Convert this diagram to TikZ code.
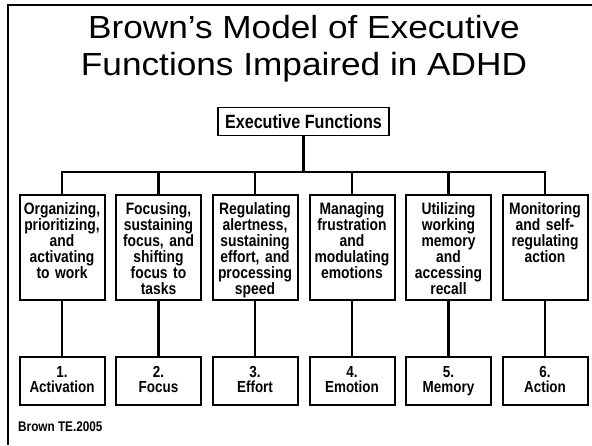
\documentclass[tikz,border=0pt]{standalone}
\usepackage{fontspec}
\setmainfont{Liberation Sans}
\newfontfamily\boxfont[FakeStretch=0.84]{Liberation Sans}
\newfontfamily\titlefont[FakeStretch=1.1]{Liberation Sans}

\begin{document}
\begin{tikzpicture}[x=1pt, y=-1pt,
    skillbox/.style={rectangle, draw, line width=2pt, text width=80pt, inner xsep=2.5pt, inner ysep=3pt,
      align=center, anchor=north, text height=16pt, text depth=83pt,
      font=\boxfont\bfseries\fontsize{16.5}{16}\selectfont},
    areabox/.style={rectangle, draw, line width=2pt, text width=80pt, inner xsep=2.5pt,
      minimum height=48pt, align=center, text height=12pt, text depth=19pt,
      font=\boxfont\bfseries\fontsize{16}{15}\selectfont},
    link/.style={line width=2.6pt}]
      \useasboundingbox (0,0) rectangle (592,445);
      \draw[line width=2pt] (592,5) -- (8,5) -- (8,445);

      \node at(304,49) [align=center, font=\titlefont\fontsize{32}{37}\selectfont] (title)
        {Brown’s Model of Executive\\Functions Impaired in ADHD};
      \node at(303.5,121.5) [rectangle, draw, line width=1.6pt, minimum width=171pt, minimum height=28pt,
        font=\boxfont\bfseries\fontsize{19.2}{19}\selectfont] (ef) {Executive Functions};
      \coordinate (bus) at (303.5,172);

      \node at(62,194)    [skillbox] (organize) {Organizing,\\prioritizing,\\and\\activating\\to work};
      \node at(158.5,194) [skillbox] (focusing) {Focusing,\\sustaining\\focus, and\\shifting\\focus to\\tasks};
      \node at(255,194)   [skillbox] (regulate) {Regulating\\alertness,\\sustaining\\effort, and\\processing\\speed};
      \node at(352,194)   [skillbox] (manage)   {Managing\\frustration\\and\\modulating\\emotions};
      \node at(448.5,194) [skillbox] (utilize)  {Utilizing\\working\\memory\\and\\accessing\\recall};
      \node at(545,194)   [skillbox] (monitor)  {Monitoring\\and self-\\regulating\\action};

      \node at(62,381)    [areabox] (activation) {1.\\Activation};
      \node at(158.5,381) [areabox] (focus)      {2.\\Focus};
      \node at(255,381)   [areabox] (effort)     {3.\\Effort};
      \node at(352,381)   [areabox] (emotion)    {4.\\Emotion};
      \node at(448.5,381) [areabox] (memory)     {5.\\Memory};
      \node at(545,381)   [areabox] (action)     {6.\\Action};

      \node at(18,431) [anchor=base west, inner sep=0pt, font=\boxfont\bfseries\fontsize{14}{14}\selectfont] (source)
        {Brown TE.2005};

      \draw[link] (ef) -- (ef |- bus);
      \draw[link] (organize.north) -- (organize.north |- bus) -- (monitor.north |- bus) -- (monitor.north);
      \draw[link] (focusing.north) -- (focusing.north |- bus);
      \draw[link] (regulate.north) -- (regulate.north |- bus);
      \draw[link] (manage.north) -- (manage.north |- bus);
      \draw[link] (utilize.north) -- (utilize.north |- bus);

      \draw[link] (organize) -- (activation);
      \draw[link] (focusing) -- (focus);
      \draw[link] (regulate) -- (effort);
      \draw[link] (manage) -- (emotion);
      \draw[link] (utilize) -- (memory);
      \draw[link] (monitor) -- (action);
\end{tikzpicture}
\end{document}
